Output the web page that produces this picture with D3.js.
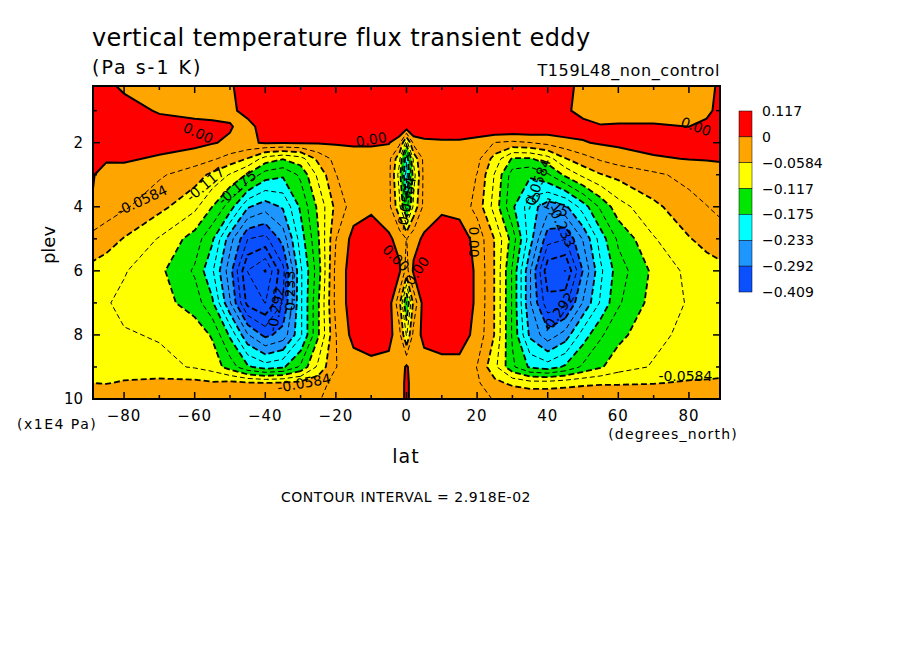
<!DOCTYPE html>
<html><head><meta charset="utf-8">
<script src="https://cdn.jsdelivr.net/npm/d3@7"></script>
<style>body{margin:0;background:#fff}svg text{font-family:"DejaVu Sans",sans-serif}</style>
</head><body><div id="c"></div>
<script>
// grid, values in units of 0.01 Pa s-1 K
const lats = [-90,-85,-80,-70,-60,-55,-50,-45,-40,-35,-30,-25,-20,-15,-10,-5,-2,0,2,5,10,15,20,25,30,35,40,45,50,55,60,70,80,85,90];
const levs = [0.2,1,1.5,2,2.5,3,4,5,6,7,8,9,9.5,10];
const vals = [
 [2,1,-1,-2,-2,-1.5,-0.5,2,4,4,4,4,4,4,4,4,4,4,4,4,4,4,4,4,4,3,2,1,-1,-2,-2,-2,-1,-1,1],
 [2,3,2,-0.5,-1.5,-1.5,-1,1.5,4,4,4,4,4,4,4,4,4,4,4,4,4,4,4,4,4,3,2,0.5,-1,-2,-2,-2,-1,-0.5,1],
 [2,3,3,2,1.5,1,0.3,-1.5,2,3,3,3,3,3,3,3,3,2,3,3,3,3,3,3,3,3,2,2,1,0.3,0.5,0.5,0,0.5,1],
 [2,2,2,1.5,0.8,0.2,-0.5,-0.5,0.3,0.3,0.3,0.3,0.3,0.3,0.3,0.2,-2,-10,-2,-1,-0.7,-0.7,-1.5,-3,-3.5,-3,-2,-1,-0.2,0.3,0.6,1,1,1,1],
 [0.5,0.3,0.5,-0.5,-1.5,-2.5,-4,-6,-10,-11.5,-10,-5,-2,-1,-1,-2,-8,-20,-8,-2,-1,-1,-2,-7,-12,-12,-10,-6,-4,-2.5,-1.5,-0.3,0.1,0.2,0.3],
 [0.5,-1,-1.5,-2.5,-4.5,-6.5,-9,-12,-16,-17,-14,-8,-3,-1,-0.5,-2,-10,-22,-10,-2,-0.5,-1,-3,-9,-16,-17,-15,-11,-8,-6,-5,-3.5,-2,-1.5,-1],
 [0.2,-1.5,-2.5,-5,-8,-11.7,-16,-23,-25,-23,-17,-11,-5,-1.5,-0.5,-2,-8,-16,-8,-2,-0.5,-1,-4,-10,-17,-22,-25,-24,-19,-14,-10,-6.5,-4,-3,-2],
 [-3.5,-4.5,-6,-9,-13,-17,-25,-32,-33,-28,-19,-12,-3,1,1.5,0.5,-1,-3,-1,0.5,1.5,1.5,-1,-6,-13,-22,-31,-32,-26,-19,-14,-9,-6,-5,-4],
 [-6.5,-7.5,-8.5,-11,-15,-20,-28,-38,-41,-33,-21,-13,-2,1.5,2,1,0.5,-4,0.5,1,2,2,-0.5,-6,-15,-26,-37,-38,-29,-21,-16,-11,-8,-7,-6.5],
 [-7.5,-8.5,-9.5,-10.5,-13,-17,-26,-36,-38,-32,-21,-12,-2,1.5,2,1.5,-5,-15,-5,1.5,2,2,-0.5,-6,-15,-26,-34,-33,-26,-20,-15,-10.5,-8.5,-8,-7.5],
 [-7,-8,-8.5,-9,-10,-12,-18,-26,-30,-28,-21,-12,-3,1,1.5,1,-2,-9,-2,1,1.5,1.5,-1,-6,-15,-24,-28,-25,-19,-15,-12.5,-9.5,-8,-7.5,-7],
 [-6.5,-7,-7.5,-8,-9,-10,-13,-17,-19,-18,-14,-8,-3,-1.5,-0.8,-1,-2,0.5,-2,-1.5,-1,-1,-3,-8,-14,-18,-19,-17,-14,-12,-10,-8.5,-7.5,-7,-6.5],
 [-5.8,-6,-5.5,-5,-5,-5.5,-5,-5.5,-5.8,-5.5,-5,-4,-2,-1.5,-1.5,-2,-2,1,-2,-2,-2,-2,-2.5,-5,-6.5,-7.5,-7.5,-7,-6.5,-6.2,-6.2,-6,-5.5,-5.5,-5.5],
 [-3,-3,-3,-3,-3,-3,-3,-3,-3,-3,-3,-3,-2.5,-2,-2,-2,-2,1,-2,-2,-2,-2,-2.5,-3,-3,-3,-3,-3,-3,-3,-3,-3,-3,-3,-3]
];
const bandEdges = [0.117, 0, -0.0584, -0.117, -0.175, -0.233, -0.292, -0.409];
const bandLabels = ["0.117","0","-0.0584","-0.117","-0.175","-0.233","-0.292","-0.409"];
const bandColors = ["#ff0000","#ffa500","#ffff00","#00e600","#00ffff","#1e96ff","#0a50ff"];
const interval = 2.918;
const xTicks = [-80,-60,-40,-20,0,20,40,60,80];
const yTicks = [2,4,6,8,10];
// contour labels: [lat, plev, text, angle]
const cLabels = [[-59,1.7,"0.00",25],[-10,1.9,"0.00",-10],[82,1.5,"0.00",20],[-75,3.8,"-0.0584",-25],[-57,3.3,"-0.117",-40],[-48,3.4,"-0.175",-40],
 [-37,7.2,"-0.292",-80],[-33,6.7,"-0.233",-90],[-29,9.5,"-0.0584",-10],[3,6,"0.00",-55],[-3,5.6,"0.00",45],[19,5.1,"0.00",90],
 [0,3.9,"-0.0584",-80],[37,3.3,"-0.0584",-70],[40,3.9,"-0.175",25],[44,4.6,"-0.233",65],[43,7.3,"-0.292",-55],[79,9.3,"-0.0584",0]];

const W=904,H=654, L=93,R=720,T=86,B=399;
const svg=d3.select("#c").append("svg").attr("width",W).attr("height",H);
const x=d3.scaleLinear().domain([-88.8,88.8]).range([L,R]);
const y=d3.scaleLinear().domain([0.23,10]).range([T,B]);
const n=lats.length,m=levs.length;
const iLat=d3.scaleLinear().domain(d3.range(n)).range(lats);
const iLev=d3.scaleLinear().domain(d3.range(m)).range(levs);
const flat=[].concat(...vals);
const cont=d3.contours().size([n,m]).smooth(true);
const proj=d3.geoTransform({point(px,py){
  const a=Math.max(0,Math.min(n-1,px-0.5)), b=Math.max(0,Math.min(m-1,py-0.5));
  this.stream.point(x(iLat(a)),y(iLev(b)));}});
const path=d3.geoPath(proj);
svg.append("clipPath").attr("id","cl").append("rect").attr("x",L).attr("y",T).attr("width",R-L).attr("height",B-T);
const g=svg.append("g").attr("clip-path","url(#cl)");
g.append("rect").attr("x",L).attr("y",T).attr("width",R-L).attr("height",B-T).attr("fill",bandColors[6]);
const fillTh=bandEdges.slice(1,7).reverse().map(v=>v*100);
fillTh.forEach((t,i)=>{
  g.append("path").datum(cont.contour(flat,t)).attr("d",path).attr("fill",bandColors[5-i]);
});
// contour lines
const lineTh=d3.range(0,15).map(k=>-k*interval);
lineTh.forEach((t,k)=>{
  g.append("path").datum(cont.contour(flat,t)).attr("d",path).attr("fill","none").attr("stroke","#000")
   .attr("stroke-width",k===0?2:(k%2===0?1.8:1)).attr("stroke-dasharray",k===0?null:(k%2===0?"6,3":"5,3"));
});
g.selectAll("text.cl").data(cLabels).join("text")
 .attr("transform",d=>`translate(${x(d[0])},${y(d[1])}) rotate(${d[3]})`)
 .attr("text-anchor","middle").attr("dy","0.35em").attr("font-size",14).text(d=>d[2]);
svg.append("rect").attr("x",L).attr("y",T).attr("width",R-L).attr("height",B-T).attr("fill","none").attr("stroke","#000").attr("stroke-width",2);
// ticks
const ax=svg.append("g").attr("stroke","#000").attr("stroke-width",1.5);
d3.range(-80,81,10).forEach(v=>{const l=v%20===0?7:4;
  ax.append("line").attr("x1",x(v)).attr("x2",x(v)).attr("y1",B).attr("y2",B-l);
  ax.append("line").attr("x1",x(v)).attr("x2",x(v)).attr("y1",T).attr("y2",T+l);});
d3.range(1,10.01,1).forEach(v=>{const l=v%2===0?7:4;
  ax.append("line").attr("y1",y(v)).attr("y2",y(v)).attr("x1",L).attr("x2",L+l);
  ax.append("line").attr("y1",y(v)).attr("y2",y(v)).attr("x1",R).attr("x2",R-l);});
svg.selectAll("text.xt").data(xTicks).join("text").attr("x",d=>x(d)).attr("y",421).attr("text-anchor","middle").attr("font-size",15).attr("letter-spacing",1).text(d=>d===0?"0":String(d).replace("-","\u2212"));
svg.selectAll("text.yt").data(yTicks).join("text").attr("x",83).attr("y",d=>y(d)+5).attr("text-anchor","end").attr("font-size",15).text(d=>d);
const tx=(t,xx,yy,s,a="start",ls=1)=>svg.append("text").attr("x",xx).attr("y",yy).attr("font-size",s).attr("letter-spacing",ls).attr("text-anchor",a).text(t);
tx("vertical temperature flux transient eddy",92,46,24,"start",0.4);
tx("(Pa s-1 K)",92,74,19,"start",2);
tx("T159L48_non_control",720,76,16,"end",0.6);
tx("(x1E4 Pa)",17,429,14,"start",1.5);
tx("lat",406,463,19,"middle");
tx("(degrees_north)",738,439,14,"end",1.2);
tx("CONTOUR INTERVAL = 2.918E-02",406,502,14,"middle",0.55);
svg.append("text").attr("transform","translate(55,245) rotate(-90)").attr("text-anchor","middle").attr("font-size",18).text("plev");
// colorbar
const cb=d3.scaleLinear().domain([0,7]).range([111,292]);
svg.selectAll("rect.cb").data(bandColors).join("rect").attr("x",739).attr("width",13).attr("y",(d,i)=>cb(i)).attr("height",cb(1)-cb(0)).attr("fill",d=>d).attr("stroke","#000").attr("stroke-width",0.5);
svg.selectAll("text.cb").data(bandLabels).join("text").attr("x",762).attr("y",(d,i)=>cb(i)+5).attr("font-size",14).text(d=>d.replace("-","\u2212"));
</script></body></html>
